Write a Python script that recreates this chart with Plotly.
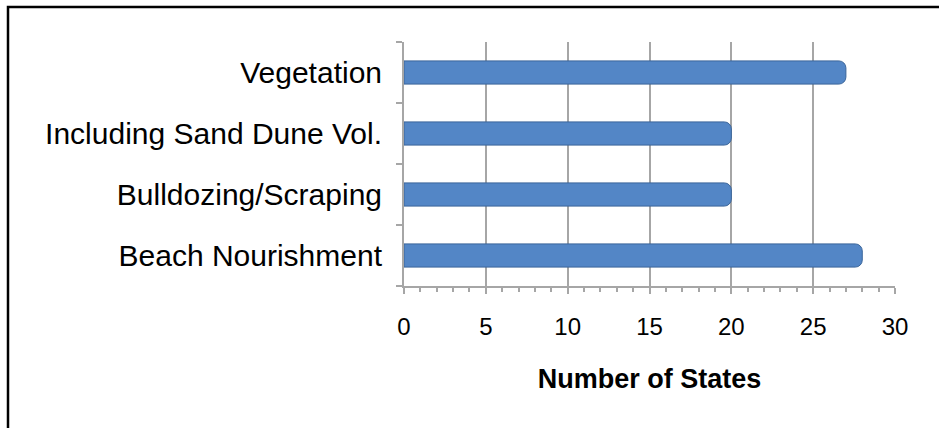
import plotly.graph_objects as go

categories = ["Beach Nourishment", "Bulldozing/Scraping", "Including Sand Dune Vol.", "Vegetation"]
values = [28, 20, 20, 27]
x_ticks = [0, 5, 10, 15, 20, 25, 30]
x_title = "Number of States"

W, H = 939, 428
L, R, T, B = 404, 44, 42, 142

fig = go.Figure()
fig.add_trace(go.Bar(
    y=categories, x=values, orientation="h", width=0.38,
    marker=dict(color="#5386C6", line=dict(color="#3A659A", width=1), cornerradius=7),
    hoverinfo="x+y",
))

fig.update_layout(
    width=W, height=H, autosize=False,
    margin=dict(l=L, r=R, t=T, b=B, pad=0),
    paper_bgcolor="white", plot_bgcolor="white",
    font=dict(family="Liberation Sans, Arial, sans-serif", color="black"),
    showlegend=False, bargap=0.62,
)
fig.update_xaxes(
    range=[0, 30], tickvals=x_ticks, ticktext=[str(v) for v in x_ticks],
    showgrid=True, gridcolor="#A6A6A6", gridwidth=2,
    showline=True, linecolor="#A6A6A6", linewidth=2,
    ticks="outside", ticklen=6, tickwidth=2, tickcolor="#A6A6A6",
    minor=dict(dtick=1, ticks="outside", ticklen=4, tickwidth=2, tickcolor="#A6A6A6", showgrid=False),
    tickfont=dict(size=24), ticklabelstandoff=12,
    title=dict(text="<b>" + x_title + "</b>", font=dict(size=27), standoff=30),
    zeroline=False, fixedrange=True,
)
fig.update_yaxes(
    categoryorder="array", categoryarray=categories,
    showline=True, linecolor="#A6A6A6", linewidth=2,
    ticks="outside", ticklen=6, tickwidth=2, tickcolor="#A6A6A6", tickson="boundaries",
    tickfont=dict(size=30), ticklabelstandoff=14,
    showgrid=False, fixedrange=True,
)
# chart border (only top/left edges visible in the frame)
fig.add_shape(type="rect", xref="paper", yref="paper",
              x0=(8 - L) / (W - L - R), x1=1.5,
              y0=-1.0, y1=(H - B - 7) / (H - T - B),
              line=dict(color="black", width=2.5), fillcolor="rgba(0,0,0,0)", layer="below")

fig.write_html("out.html", config={"displayModeBar": False},
               post_script="document.body.style.margin='0';document.body.style.overflow='hidden';")
